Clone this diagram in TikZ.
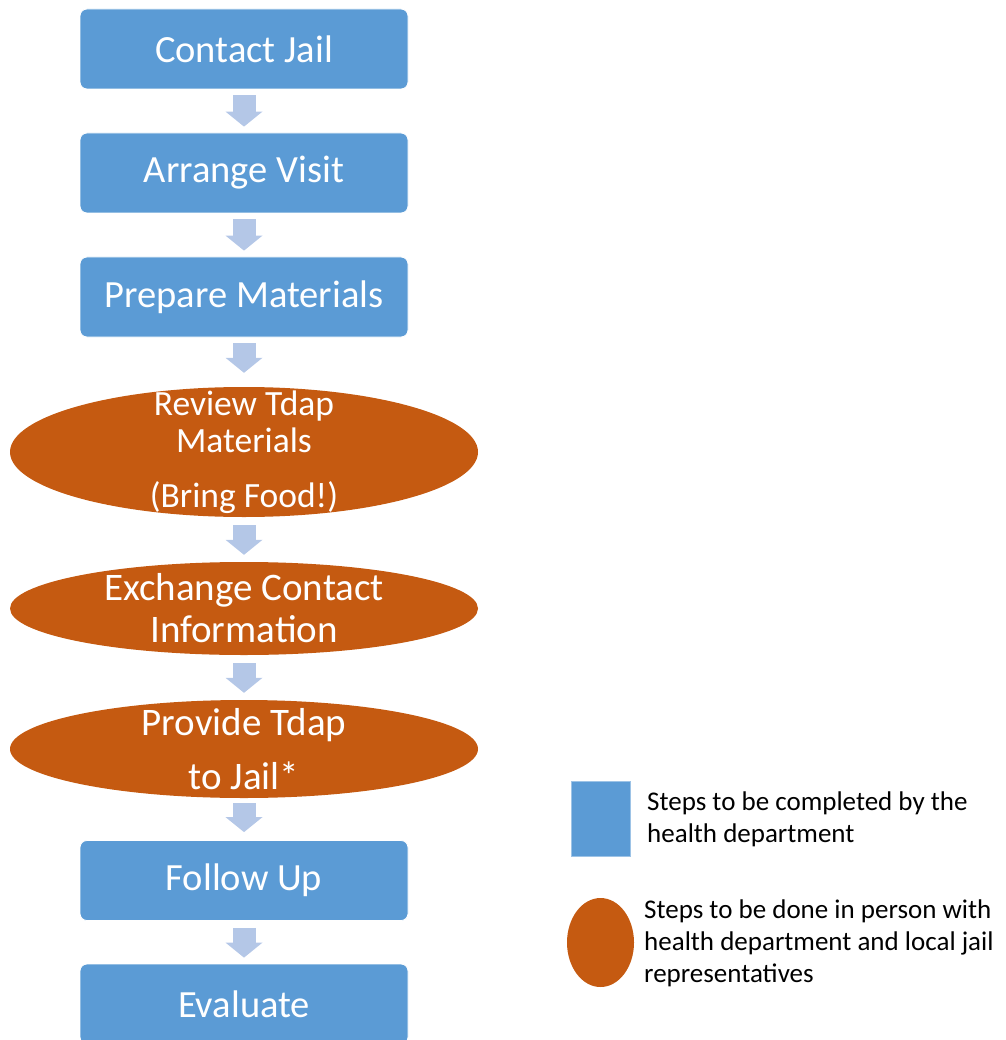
\documentclass[tikz,border=0pt]{standalone}
\usepackage{fontspec}
\setmainfont{Carlito}
\usetikzlibrary{shapes.geometric, arrows.meta}

\definecolor{hdblue}{HTML}{5B9BD5}
\definecolor{jailorange}{HTML}{C55A11}
\definecolor{flowblue}{HTML}{B4C7E7}

\tikzset{
  hdstep/.style={rectangle, rounded corners=7pt, fill=hdblue, draw=white, line width=0.8pt,
    minimum width=328pt, minimum height=80pt, text=white, font=\fontsize{38.5}{47}\selectfont},
  jointstep/.style={ellipse, fill=jailorange, minimum width=468pt, inner xsep=0pt, inner ysep=-30pt,
    text=white, align=center, font=\fontsize{39}{42}\selectfont},
  flow/.style={draw=flowblue, line width=23pt,
    -{Triangle[width=37pt, length=15pt, line width=0pt]}, shorten <=6pt, shorten >=6pt},
  keytext/.style={anchor=west, align=left, inner sep=0pt, font=\fontsize{27}{32}\selectfont}
}

\begin{document}
\begin{tikzpicture}[x=1pt, y=1pt]
\path[use as bounding box, clip] (0,0) rectangle (1005,-1040);

% steps
\node[hdstep] (contact) at (244,-49) {Contact Jail};
\node[hdstep] (arrange) at (244,-173) {Arrange Visit};
\node[hdstep] (prepare) at (244,-297) {Prepare Materials};
\node[jointstep, minimum height=130pt, font=\fontsize{35.5}{42}\selectfont] (review) at (244,-452)
  {Review Tdap\\[-5pt]Materials\\[13pt](Bring Food!)};
\node[jointstep, minimum height=93pt] (exchange) at (244,-608.5)
  {Exchange Contact\\Information};
\node[jointstep, minimum height=98pt] (provide) at (244,-749)
  {Provide Tdap\\[12pt]to Jail*};
\node[hdstep] (followup) at (244,-880.5) {Follow Up};
\node[hdstep] (evaluate) at (244,-1004) {Evaluate};

% arrows
\draw[flow] (contact) -- (arrange);
\draw[flow] (arrange) -- (prepare);
\draw[flow, shorten >=14pt] (prepare) -- (review);
\draw[flow, shorten <=8pt, shorten >=7pt] (review) -- (exchange);
\draw[flow, shorten <=8pt, shorten >=7pt] (exchange) -- (provide);
\draw[flow, shorten <=5pt, shorten >=8pt] (provide) -- (followup);
\draw[flow, shorten <=7pt] (followup) -- (evaluate);

% key
\node[rectangle, fill=hdblue, draw=hdblue!60, line width=0.6pt, minimum width=59pt, minimum height=75pt] (keyhd) at (600.5,-818.5) {};
\node[keytext] (keyhdtext) at (647,-819) {Steps to be completed by the\\health department};
\node[ellipse, fill=jailorange, minimum width=67pt, minimum height=89pt] (keyjoint) at (600.5,-942.5) {};
\node[keytext] (keyjointtext) at (644,-943) {Steps to be done in person with\\health department and local jail\\representatives};
\end{tikzpicture}
\end{document}
